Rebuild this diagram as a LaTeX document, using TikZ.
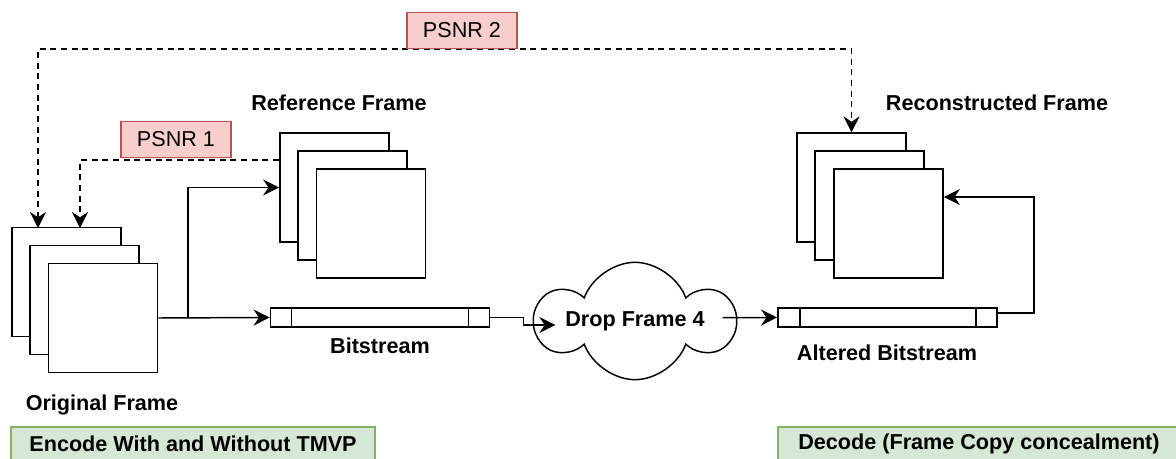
\documentclass[tikz,border=0pt]{standalone}
\usepackage{fontspec}
\setmainfont{Liberation Sans}
\usetikzlibrary{arrows.meta,shapes.symbols}
\definecolor{psnrfill}{HTML}{F8CECC}
\definecolor{psnrdraw}{HTML}{B85450}
\definecolor{stagefill}{HTML}{D5E8D4}
\definecolor{stagedraw}{HTML}{82B366}

\begin{document}
\begin{tikzpicture}[
  x=0.75pt, y=-0.75pt,
  frame/.style={rectangle, draw=black, fill=white, line width=1.1pt, minimum width=82pt, minimum height=81.5pt, inner sep=0pt},
  stream/.style={rectangle, draw=black, fill=white, line width=1.1pt, minimum width=164.5pt, minimum height=14.25pt, inner sep=0pt},
  lbl/.style={font=\fontsize{16.2}{19}\selectfont\bfseries, inner sep=0pt},
  psnr/.style={rectangle, draw=psnrdraw, fill=psnrfill, line width=1pt, minimum width=82.5pt, minimum height=27pt, inner sep=0pt, font=\fontsize{16.2}{19}\selectfont},
  stage/.style={rectangle, draw=stagedraw, fill=stagefill, line width=1pt, minimum height=25.5pt, inner sep=0pt, font=\fontsize{16.2}{19}\selectfont\bfseries},
  edge/.style={line width=1.1pt, draw=black, -{Stealth[length=12pt,width=12pt,inset=4pt]}},
  metric/.style={line width=1.1pt, draw=black, dash pattern=on 4.5pt off 3.5pt}
]
  \useasboundingbox (0,0) rectangle (1176,459);

  % Frames originales, de referencia y reconstruidos (pilas de tres)
  \node[frame] (origA) at (66.5,282) {};
  \node[frame] (origB) at (84.5,300) {};
  \node[frame] (origC) at (103,318) {};

  \node[frame] (refA) at (334.5,187.5) {};
  \node[frame] (refB) at (352.5,205.5) {};
  \node[frame] (refC) at (371,223.5) {};

  \node[frame] (recA) at (851.5,187.5) {};
  \node[frame] (recB) at (869.5,205.5) {};
  \node[frame] (recC) at (888.5,223.5) {};

  % Bitstreams
  \node[stream] (bs) at (380,317.5) {};
  \draw[line width=1.1pt] ([xshift=16.5pt]bs.north west) -- ([xshift=16.5pt]bs.south west);
  \draw[line width=1.1pt] ([xshift=-16.5pt]bs.north east) -- ([xshift=-16.5pt]bs.south east);

  \node[stream] (alt) at (887.5,317.5) {};
  \draw[line width=1.1pt] ([xshift=17pt]alt.north west) -- ([xshift=17pt]alt.south west);
  \draw[line width=1.1pt] ([xshift=-16.5pt]alt.north east) -- ([xshift=-16.5pt]alt.south east);

  \node[cloud, draw=black, fill=white, line width=1.1pt, cloud puffs=6, cloud puff arc=140, cloud ignores aspect,
        minimum width=146pt, minimum height=88pt, inner sep=0pt,
        font=\fontsize{16.2}{19}\selectfont\bfseries] (drop) at (635,321) {Drop Frame 4};

  % Etiquetas
  \node[lbl] (refT) at (339,103) {Reference Frame};
  \node[lbl] (recT) at (997,103) {Reconstructed Frame};
  \node[lbl] (origT) at (102,405) {Original Frame};
  \node[lbl] (bsT) at (380,346) {Bitstream};
  \node[lbl] (altT) at (887,353) {Altered Bitstream};

  \node[stage, minimum width=273pt] (enc) at (193,444) {Encode With and Without TMVP};
  \node[stage, minimum width=301.5pt] (dec) at (979,444) {Decode (Frame Copy concealment)};

  % Flujo principal
  \coordinate (split) at (188,318);
  \draw[edge] (origC.east) -- (bs.west);
  \draw[edge] (split) |- (refA.west);
  \draw[edge] (bs.east) -- ++(33,0) |- ([xshift=17pt,yshift=-3pt]drop.west);
  \draw[edge] ([xshift=-11pt,yshift=2.5pt]drop.east) -- (alt.west);
  \draw[edge] ([yshift=3.5pt]alt.east) -- ++(36,0) |- ([yshift=19.9pt]recC.east);

  % Comparaciones PSNR
  \coordinate (in1) at (80,228);
  \coordinate (in2) at (38,228);
  \coordinate (p1line) at (176,160);
  \coordinate (p2line) at (462,49);
  \draw[metric, -{Stealth[length=12pt,width=12pt,inset=4pt]}] (refA.west |- p1line) -| (in1);
  \draw[metric, {Stealth[length=12pt,width=12pt,inset=4pt]}-{Stealth[length=12pt,width=12pt,inset=4pt]}] (in2) |- (p2line) -| (recA.north);

  \node[psnr, above] (p1) at ([yshift=1.5pt]p1line) {PSNR 1};
  \node[psnr, above] (p2) at (p2line) {PSNR 2};

\end{tikzpicture}
\end{document}
